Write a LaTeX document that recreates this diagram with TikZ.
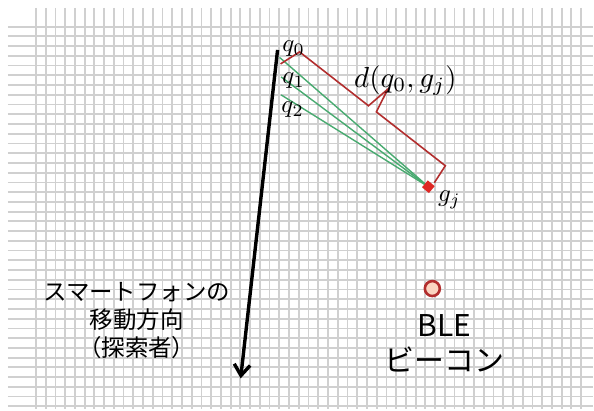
\documentclass[tikz,border=0pt]{standalone}
\usepackage{fontspec}
\newfontfamily\jpfont{Noto Sans CJK JP}
\usetikzlibrary{arrows.meta,calc}
\definecolor{gridgray}{RGB}{208,208,208}
\definecolor{sightgreen}{RGB}{72,170,112}
\definecolor{brkred}{RGB}{178,46,46}
\definecolor{markred}{RGB}{222,40,36}
\definecolor{beaconfill}{RGB}{250,212,192}
\begin{document}
\begin{tikzpicture}[x=1pt, y=-1pt,
    gridline/.style={gridgray, line width=1.8pt},
    sight/.style={sightgreen, line width=1.4pt},
    brk/.style={brkred, line width=1.6pt, line join=miter},
    move/.style={black, line width=3.4pt, -{Straight Barb[length=11pt,width=16pt]}},
    qlab/.style={scale=2.5, inner sep=0pt}]
    \fill[white] (0,0) rectangle (594,410);
    \foreach \i in {0,...,56}
        \draw[gridline] ({36+9.75*\i},8) -- ({36+9.75*\i},410);
    \foreach \j in {0,...,39}
        \draw[gridline] (8,{26.7+9.75*\j}) -- (594,{26.7+9.75*\j});
    \coordinate (S) at (278,50);
    \coordinate (E) at (241,379);
    \coordinate (Q0) at (280,57.5);
    \coordinate (Q1) at (281.5,77);
    \coordinate (Q2) at (281.5,95);
    \coordinate (G) at (429,187);
    \coordinate (R1) at (281,64);
    \coordinate (R2) at (300,52);
    \coordinate (R3) at (446,166);
    \coordinate (R4) at (435,183);
    \coordinate (M) at ($(R2)!0.5!(R3)$);
    \draw[move] (S) -- (E);
    \draw[sight] (Q0) -- (G);
    \draw[sight] (Q1) -- (G);
    \draw[sight] (Q2) -- (G);
    % bracket with its notch
    \draw[brk] (R1) -- (R2) -- ($(M)!5pt!(R2)$) -- ($(M)!25pt!90:(R3)$)
        -- ($(M)!5pt!(R3)$) -- (R3) -- (R4);
    \node[fill=markred, minimum size=9pt, inner sep=0pt, rotate=-40] (gm) at (G) {};
    \node[draw=brkred, fill=beaconfill, circle, line width=2.6pt, minimum size=15pt, inner sep=0pt] (bc) at (433,289) {};
    \node[qlab] (q0) at (294,49) {$q_0$};
    \node[qlab] (q1) at (294,81) {$q_1$};
    \node[qlab] (q2) at (293,110) {$q_2$};
    \node[qlab] (gj) at (450,200) {$g_j$};
    \node[scale=2.9, inner sep=0pt] (dl) at (406,81) {$d(q_0,g_j)$};
    \node[font=\jpfont\fontsize{23.5}{28}\selectfont, align=center, inner sep=0pt] (ph) at (137,321)
        {スマートフォンの\\移動方向\\（探索者）};
    \node[font=\jpfont\fontsize{30}{35}\selectfont, align=center, inner sep=0pt] (bl) at (445,344)
        {BLE\\ビーコン};
\end{tikzpicture}
\end{document}
